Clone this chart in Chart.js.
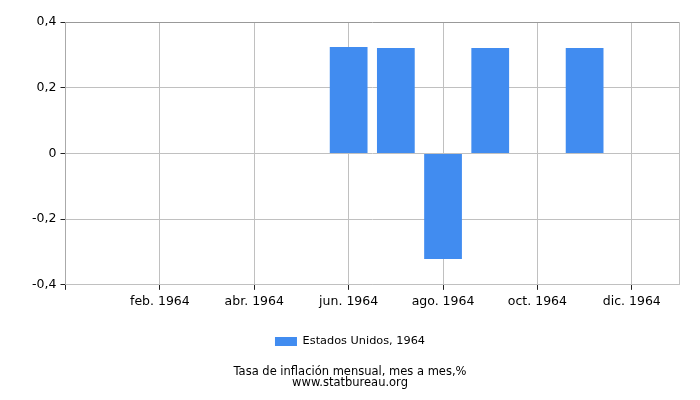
<!DOCTYPE html>
<html>
<head>
<meta charset="utf-8">
<script src="https://cdn.jsdelivr.net/npm/chart.js@4"></script>
<style>
  body { margin: 0; background: #fff; }
  #wrap { width: 700px; height: 400px; }
</style>
</head>
<body>
<div id="wrap"><canvas id="chartInflation"></canvas></div>
<script>
// meses del año y valores
let meses = [1, 2, 3, 4, 5, 6, 7, 8, 9, 10, 11, 12];
let nombresMeses = ['ene. 1964', 'feb. 1964', 'mar. 1964', 'abr. 1964', 'may. 1964', 'jun. 1964',
    'jul. 1964', 'ago. 1964', 'sep. 1964', 'oct. 1964', 'nov. 1964', 'dic. 1964'];
let inflacion = [null, null, null, null, null, 0.324, 0.321, -0.321, 0.321, null, 0.321, null];
let serie = 'Estados Unidos, 1964';

let puntos = meses.map((m, i) => ({ x: m, y: inflacion[i] }));

let fuente = 'DejaVu Sans';

let context = document.querySelector('#chartInflation').getContext('2d');

let config = {
    type: 'bar',
    data: {
        datasets: [{
            label: serie,
            data: puntos,
            backgroundColor: '#418cf0',
            borderWidth: 0,
            barPercentage: 1,
            categoryPercentage: 0.8
        }]
    },
    options: {
        responsive: true,
        maintainAspectRatio: false,
        animation: false,
        layout: {
            padding: { left: 21, right: 21, top: 22, bottom: 12 }
        },
        plugins: {
            legend: {
                position: 'bottom',
                labels: {
                    boxWidth: 22,
                    boxHeight: 9,
                    color: '#000',
                    font: { family: fuente, size: 11.3 },
                    padding: 10
                }
            },
            title: {
                display: true,
                position: 'bottom',
                text: ['Tasa de inflación mensual, mes a mes,%', 'www.statbureau.org'],
                color: '#000',
                font: { family: fuente, size: 11.5, weight: 'normal', lineHeight: 0.95 },
                padding: { top: 9, bottom: 0 }
            },
            tooltip: { enabled: false }
        },
        scales: {
            x: {
                type: 'linear',
                min: 0,
                max: 13,
                offset: false,
                ticks: {
                    stepSize: 2,
                    autoSkip: false,
                    maxRotation: 0,
                    color: '#000',
                    font: { family: fuente, size: 12.5 },
                    padding: 4,
                    callback: (v) => (v >= 1 && v <= 12) ? nombresMeses[v - 1] : ''
                },
                grid: {
                    offset: false,
                    color: '#c0c0c0',
                    tickColor: (ctx) => ctx.tick && ctx.tick.value > 12 ? 'rgba(0,0,0,0)' : '#222',
                    tickLength: 5
                },
                border: { color: '#c0c0c0' },
                afterFit: (scale) => { scale.height += 13; }
            },
            y: {
                min: -0.4,
                max: 0.4,
                ticks: {
                    stepSize: 0.2,
                    color: '#000',
                    font: { family: fuente, size: 12.5 },
                    padding: 4,
                    callback: (v) => (Math.round(v * 10) / 10).toString().replace('.', ',')
                },
                grid: {
                    color: (ctx) => ctx.tick && ctx.tick.value > 0.39 ? '#999' : '#c0c0c0',
                    tickColor: '#222',
                    tickLength: 5
                },
                border: { color: '#aaa' },
                afterFit: (scale) => { scale.width = 44.5; }
            }
        }
    }
};

let chartInflation = new Chart(context, config);
</script>
</body>
</html>
